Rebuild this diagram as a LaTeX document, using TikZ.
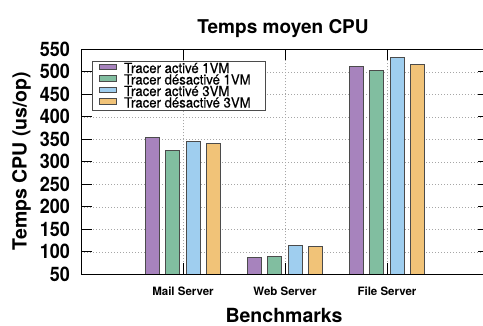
\documentclass[tikz,border=0pt]{standalone}
\usepackage{fontspec}
\setmainfont{TeX Gyre Heros}
\newfontfamily\legfont[FakeStretch=0.94, FakeBold=0.6]{TeX Gyre Heros}
\newfontfamily\tickfont[FakeStretch=0.9]{TeX Gyre Heros}
\definecolor{barviolet}{RGB}{167,131,189}
\definecolor{barvert}{RGB}{129,190,160}
\definecolor{barbleu}{RGB}{159,206,239}
\definecolor{barorange}{RGB}{241,195,120}
\definecolor{bord}{RGB}{75,75,75}
\tikzset{
	grille/.style={gray!70, line width=0.6pt, dash pattern=on 1pt off 2pt},
	axe/.style={black, line width=0.9pt},
	barre/.style={draw=bord, line width=1.1pt},
	ytick/.style={anchor=east, inner sep=0pt, font=\tickfont\bfseries\fontsize{20}{20}\selectfont},
	catlabel/.style={inner sep=0pt, font=\bfseries\fontsize{11.5}{11.5}\selectfont},
	swatch/.style={draw=bord, line width=1pt, minimum width=17pt, minimum height=5.5pt, inner sep=0pt},
	legtext/.style={anchor=base west, inner sep=0pt, font=\legfont\fontsize{14}{14}\selectfont}
}
\newcommand{\cpubar}[4] % category, slot, value, colour
{
	\draw[barre, fill=#4] ({#1+(#2-1.5)*0.199-0.0686},50) rectangle ({#1+(#2-1.5)*0.199+0.0686},#3);
}

\begin{document}
\begin{tikzpicture}
	\useasboundingbox (0,0) rectangle (483pt,325pt);
	% axes: one unit per category, y in us/op
	\begin{scope}[x=102pt, y=0.45pt, shift={(81pt,28.2pt)}]
		% grid
		\foreach \v in {100,150,...,500}
			\draw[grille] (0,\v) -- (4,\v);
		\foreach \c in {1,2,3}
			\draw[grille] (\c,50) -- (\c,550);
		% bars
		\cpubar{1}{0}{354}{barviolet}
		\cpubar{1}{1}{325}{barvert}
		\cpubar{1}{2}{345}{barbleu}
		\cpubar{1}{3}{340}{barorange}
		
		\cpubar{2}{0}{88}{barviolet}
		\cpubar{2}{1}{89}{barvert}
		\cpubar{2}{2}{115}{barbleu}
		\cpubar{2}{3}{111}{barorange}
		
		\cpubar{3}{0}{511}{barviolet}
		\cpubar{3}{1}{503}{barvert}
		\cpubar{3}{2}{531}{barbleu}
		\cpubar{3}{3}{516}{barorange}
		% frame and ticks
		\draw[axe] (0,50) rectangle (4,550);
		\foreach \v in {50,100,...,550} {
			\draw[axe] (0,\v) -- ++(11pt,0);
			\draw[axe] (4,\v) -- ++(-11pt,0);
			\node[ytick] (ytick\v) at ([xshift=-11pt]0,\v) {\v};
		}
		\foreach \c in {1,2,3} {
			\draw[axe] (\c,50) -- ++(0,11pt);
			\draw[axe] (\c,550) -- ++(0,-11pt);
		}
		\node[catlabel] (cat1) at ([yshift=-17.4pt]1,50) {Mail Server};
		\node[catlabel] (cat2) at ([yshift=-17.4pt]2,50) {Web Server};
		\node[catlabel] (cat3) at ([yshift=-17.4pt]3,50) {File Server};
	\end{scope}
	% titles
	\node[anchor=base, inner sep=0pt, font=\bfseries\fontsize{19}{19}\selectfont] (titre) at (283pt,291.7pt) {Temps moyen CPU};
	\node[anchor=base, inner sep=0pt, font=\bfseries\fontsize{19.5}{19.5}\selectfont] (xlabel) at (284pt,3pt) {Benchmarks};
	\node[anchor=base, rotate=90, inner sep=0pt, font=\bfseries\fontsize{19.5}{19.5}\selectfont] (ylabel) at (26.7pt,164pt) {Temps CPU (us/op)};
	% legend
	\draw[draw=bord, line width=1pt, fill=white] (92pt,215pt) rectangle (265.7pt,264pt);
	\node[swatch, fill=barviolet] (sw1) at (107.5pt,258pt) {};
	\node[swatch, fill=barvert] (sw2) at (107.5pt,246.5pt) {};
	\node[swatch, fill=barbleu] (sw3) at (107.5pt,235pt) {};
	\node[swatch, fill=barorange] (sw4) at (107.5pt,223.5pt) {};
	\node[legtext] (leg1) at (124pt,252pt) {Tracer activé 1VM};
	\node[legtext] (leg2) at (124pt,240.5pt) {Tracer désactivé 1VM};
	\node[legtext] (leg3) at (124pt,229pt) {Tracer activé 3VM};
	\node[legtext] (leg4) at (124pt,217.5pt) {Tracer désactivé 3VM};
\end{tikzpicture}
\end{document}
